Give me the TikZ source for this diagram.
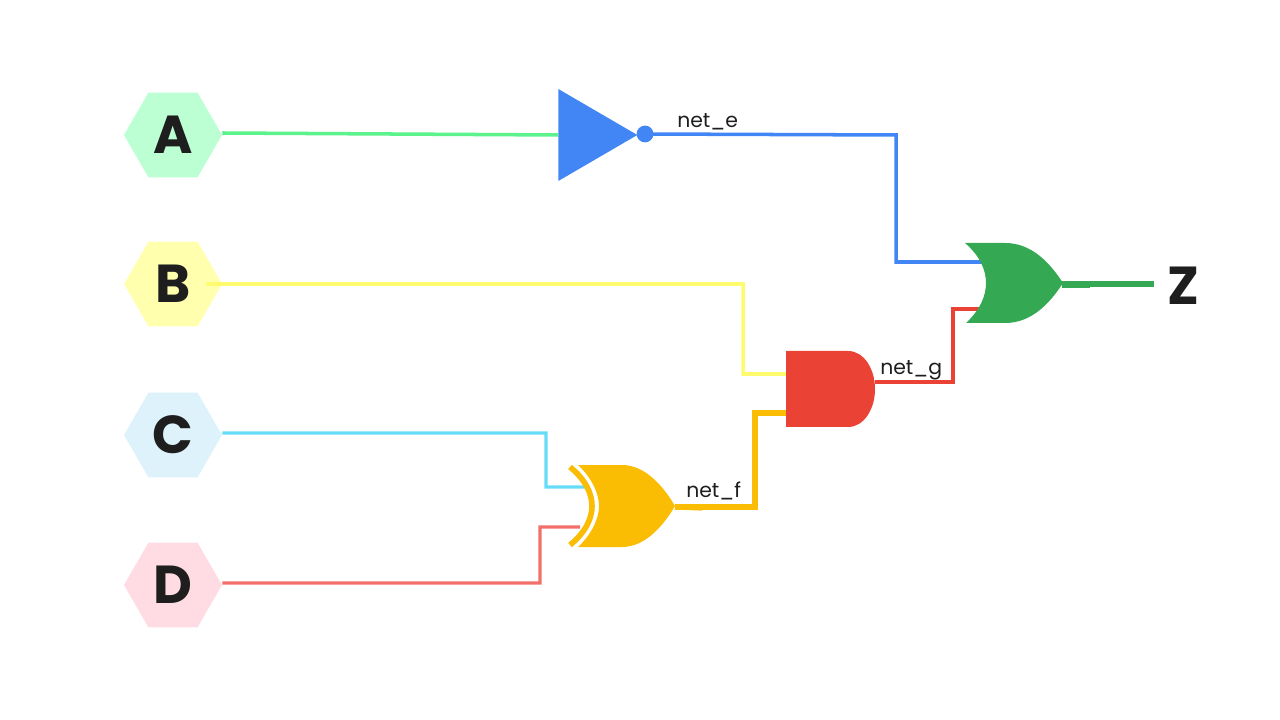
\documentclass[tikz,border=0pt]{standalone}
\usepackage{fontspec}
\setmainfont{Poppins}
\usetikzlibrary{shapes.geometric}
\definecolor{hexa}{HTML}{BBFFD2}
\definecolor{hexb}{HTML}{FFFFAE}
\definecolor{hexc}{HTML}{DDF2FB}
\definecolor{hexd}{HTML}{FFDCE4}
\definecolor{wirea}{HTML}{5CF28C}
\definecolor{wireb}{HTML}{FFFB6E}
\definecolor{wirec}{HTML}{66DCF8}
\definecolor{wired}{HTML}{F2706A}
\definecolor{gblue}{HTML}{4285F4}
\definecolor{gred}{HTML}{EA4335}
\definecolor{gyellow}{HTML}{FBBC04}
\definecolor{ggreen}{HTML}{34A853}
\definecolor{textmain}{HTML}{1E1E1E}

\begin{document}
\begin{tikzpicture}[x=0.025cm, y=-0.025cm,
  hexnode/.style={regular polygon, regular polygon sides=6, minimum size=2.45cm, inner sep=0pt, text=textmain, font=\fontsize{38}{38}\selectfont\bfseries},
  wire/.style={line width=2.5pt},
  thinwire/.style={line width=2.35pt},
  netlabel/.style={text=textmain, font=\fontsize{14.5}{16}\selectfont, inner sep=0pt},
]
\useasboundingbox (0, 0) rectangle (1280, 720);

% Inputs
\node[hexnode, fill=hexa] (inA) at (173, 135) {A};
\node[hexnode, fill=hexb] (inB) at (173, 284) {B};
\node[hexnode, fill=hexc] (inC) at (173, 435) {C};
\node[hexnode, fill=hexd] (inD) at (173, 585) {D};

% Output
\node[text=textmain, font=\fontsize{38}{38}\selectfont\bfseries, inner sep=0pt] (outZ) at (1183, 286) {Z};

% Gate pins
\coordinate (xorC) at (585, 487);
\coordinate (xorD) at (580, 527);
\coordinate (xorOut) at (675, 507);
\coordinate (xorStub) at (702, 508);
\coordinate (andB) at (790, 374);
\coordinate (andF) at (790, 413);
\coordinate (andOut) at (875, 382);
\coordinate (orE) at (990, 262);
\coordinate (orG) at (990, 309);
\coordinate (orOut) at (1062, 285);
\coordinate (orStub) at (1090, 285);
\coordinate (endZ) at (1154, 284);

% NOT gate
\node[isosceles triangle, isosceles triangle stretches, fill=gblue, minimum width=2.3cm, minimum height=1.975cm, inner sep=0pt, anchor=west] (notg) at (558, 135) {};
\node[circle, fill=gblue, minimum size=0.42cm, inner sep=0pt] (bubble) at (645, 134) {};

% Wires
\draw[wire, wirea] ([yshift=0.05cm]inA.east) -- (notg.west);
\draw[wire, wireb] ([xshift=-0.4cm]inB.east) -- (743, 284) -- (743, 374) -- (andB);
\draw[thinwire, wirec] ([yshift=0.05cm]inC.east) -- (546, 433) -- (546, 487) -- (xorC);
\draw[thinwire, wired] ([yshift=0.05cm]inD.east) -- (540, 583) -- (540, 527) -- (xorD);
\draw[wire, gblue] (bubble.center) -- (896, 135) -- (896, 262) -- (orE);
\draw[line width=3.7pt, gyellow] (xorOut) -- (755, 507) -- (755, 413) -- (andF);
\draw[thinwire, gred] (andOut) -- (953, 382) -- (953, 309) -- (orG);
\draw[line width=3.6pt, ggreen] (orOut |- endZ) -- (endZ);
\draw[line width=3.6pt, ggreen] (orOut) -- (orStub);
\draw[line width=3.7pt, gyellow] (xorOut) -- (xorStub);

% XOR gate
\fill[gyellow] (578, 465) -- (622, 465) .. controls (644, 465) and (662, 484) .. (675, 506) .. controls (662, 528) and (644, 547) .. (622, 547) -- (578, 547) .. controls (592, 534) and (599, 518) .. (599, 506) .. controls (599, 494) and (592, 478) .. (578, 465) -- cycle;
\draw[line width=4pt, gyellow] (570, 467) .. controls (586, 480) and (592, 494) .. (592, 506) .. controls (592, 518) and (586, 532) .. (570, 545);

% AND gate
\fill[gred] (786, 351) -- (848, 351) .. controls (864, 351) and (875, 369) .. (875, 389) .. controls (875, 409) and (864, 427) .. (848, 427) -- (786, 427) -- cycle;

% OR gate
\fill[ggreen] (965, 243) -- (1005, 243) .. controls (1030, 243) and (1048, 260) .. (1063, 283) .. controls (1048, 306) and (1030, 323) .. (1005, 323) -- (966, 323) .. controls (980, 310) and (986, 296) .. (986, 283) .. controls (986, 270) and (980, 256) .. (965, 243) -- cycle;

% Net labels
\node[netlabel, anchor=base west] (nete) at (677, 128) {net\_e};
\node[netlabel, anchor=base west] (netf) at (686, 497) {net\_f};
\node[netlabel, anchor=base west] (netg) at (880, 375) {net\_g};

\end{tikzpicture}
\end{document}
